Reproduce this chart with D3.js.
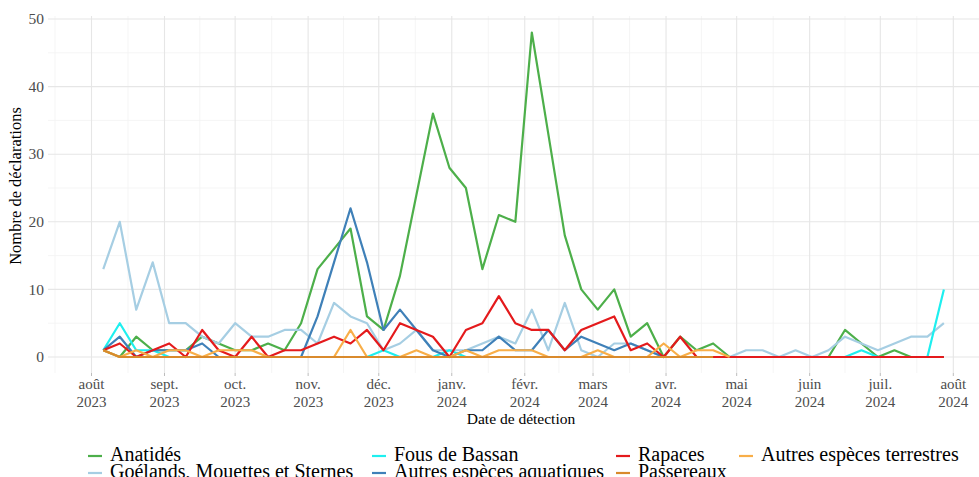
<!DOCTYPE html>
<html>
<head>
<meta charset="utf-8">
<script src="https://cdn.jsdelivr.net/npm/d3@7"></script>
<style>
  html, body { margin: 0; padding: 0; background: #fff; }
  svg { display: block; }
  text { font-family: "Liberation Serif", "Times New Roman", serif; }
</style>
</head>
<body>
<svg id="chart" width="979" height="477"></svg>
<script>
// ---------- DATA ----------
const weeks = [
  "2023-08-06","2023-08-13","2023-08-20","2023-08-27","2023-09-03","2023-09-10","2023-09-17","2023-09-24",
  "2023-10-01","2023-10-08","2023-10-15","2023-10-22","2023-10-29","2023-11-05","2023-11-12","2023-11-19",
  "2023-11-26","2023-12-03","2023-12-10","2023-12-17","2023-12-24","2023-12-31","2024-01-07","2024-01-14",
  "2024-01-21","2024-01-28","2024-02-04","2024-02-11","2024-02-18","2024-02-25","2024-03-03","2024-03-10",
  "2024-03-17","2024-03-24","2024-03-31","2024-04-07","2024-04-14","2024-04-21","2024-04-28","2024-05-05",
  "2024-05-12","2024-05-19","2024-05-26","2024-06-02","2024-06-09","2024-06-16","2024-06-23","2024-06-30",
  "2024-07-07","2024-07-14","2024-07-21","2024-07-28"
];

const anatides = [1,0,3,1,1,1,3,2,1,1,2,1,5,13,16,19,6,4,12,24,36,28,25,13,21,20,48,33,18,10,7,10,3,5,0,3,1,2,0,0,0,0,0,0,0,4,2,0,1,0,0,0];
const goelands = [13,20,7,14,5,5,3,2,5,3,3,4,4,2,8,6,5,1,2,4,1,1,1,2,3,2,7,1,8,1,0,2,2,1,0,0,0,0,0,1,1,0,1,0,1,3,2,1,2,3,3,5];
const fous     = [1,5,1,1,0,0,0,0,0,0,0,0,0,0,0,0,0,1,0,0,0,1,0,0,0,0,0,0,0,0,0,0,0,0,0,0,0,0,0,0,0,0,0,0,0,0,1,0,0,0,0,10];
const aquatiques = [1,3,0,1,1,1,2,0,0,0,0,0,0,6,14,22,14,4,7,4,1,0,1,1,3,1,1,4,1,3,2,1,2,1,0,0,0,0,0,0,0,0,0,0,0,0,0,0,0,0,0,0];
const rapaces  = [1,2,0,1,2,0,4,1,0,3,0,1,1,2,3,2,4,1,5,4,3,0,4,5,9,5,4,4,1,4,5,6,1,2,0,3,0,0,0,0,0,0,0,0,0,0,0,0,0,0,0,0];
const terrestres = [1,0,1,0,1,1,0,1,1,1,0,0,0,0,0,4,0,0,0,1,0,0,1,0,1,1,1,0,0,0,1,0,0,0,2,0,1,1,0];
const passereaux = [1,0,0,0,0,0,0,0,0,0,0,0,0,0,0,0,0,0,0,0,0,0,0,0,0,0,0,0,0,0,0,0,0,0,0,0,0,0];

const seriesNames = ["Anatidés","Goélands, Mouettes et Sternes","Fous de Bassan","Autres espèces aquatiques","Rapaces","Autres espèces terrestres","Passereaux"];
const seriesValues = [anatides, goelands, fous, aquatiques, rapaces, terrestres, passereaux];
const seriesColors = ["#4DAF4A","#A6CEE3","#1EEFEF","#3F80B8","#E41A1C","#F8AE48","#D98A2C"];

const yTicks = [0,10,20,30,40,50];
const monthTicks = ["2023-08-01","2023-09-01","2023-10-01","2023-11-01","2023-12-01","2024-01-01","2024-02-01","2024-03-01","2024-04-01","2024-05-01","2024-06-01","2024-07-01","2024-08-01"];
const monthLabels = ["août","sept.","oct.","nov.","déc.","janv.","févr.","mars","avr.","mai","juin","juil.","août"];

// legend layout: [series index, column x, row]
const legendItems = [
  {s:0, x:88,  row:0}, {s:2, x:372, row:0}, {s:4, x:616, row:0}, {s:5, x:739, row:0},
  {s:1, x:88,  row:1}, {s:3, x:372, row:1}, {s:6, x:616, row:1}
];

// ---------- CHART ----------
const parse = d3.utcParse("%Y-%m-%d");
const svg = d3.select("#chart");
const panel = {left: 48, right: 979, top: 16, bottom: 373};

const x = d3.scaleUtc()
  .domain([parse("2023-08-01"), parse("2024-08-01")])
  .range([91.5, 953.3]);
const y = d3.scaleLinear().domain([0, 50]).range([357, 19]);

const g = svg.append("g");

// minor grid
const majorDates = monthTicks.map(parse);
const minorDates = [];
minorDates.push(new Date((+parse("2023-07-01") + +majorDates[0]) / 2));
for (let i = 0; i < majorDates.length - 1; i++) {
  minorDates.push(new Date((+majorDates[i] + +majorDates[i+1]) / 2));
}
g.selectAll(".vminor").data(minorDates).join("line")
  .attr("x1", d => x(d)).attr("x2", d => x(d))
  .attr("y1", panel.top).attr("y2", panel.bottom)
  .attr("stroke", "#F2F2F2").attr("stroke-width", 0.8);
g.selectAll(".hminor").data([5,15,25,35,45]).join("line")
  .attr("x1", panel.left).attr("x2", panel.right)
  .attr("y1", d => y(d)).attr("y2", d => y(d))
  .attr("stroke", "#F2F2F2").attr("stroke-width", 0.8);
// major grid
g.selectAll(".vmajor").data(majorDates).join("line")
  .attr("x1", d => x(d)).attr("x2", d => x(d))
  .attr("y1", panel.top).attr("y2", panel.bottom)
  .attr("stroke", "#E6E6E6").attr("stroke-width", 1.1);
g.selectAll(".hmajor").data(yTicks).join("line")
  .attr("x1", panel.left).attr("x2", panel.right)
  .attr("y1", d => y(d)).attr("y2", d => y(d))
  .attr("stroke", "#E6E6E6").attr("stroke-width", 1.1);

// x tick marks
g.selectAll(".xtick").data(majorDates).join("line")
  .attr("x1", d => x(d)).attr("x2", d => x(d))
  .attr("y1", panel.bottom).attr("y2", panel.bottom + 3)
  .attr("stroke", "#BDBDBD").attr("stroke-width", 1);

// x tick labels
const xl = g.selectAll(".xlab").data(majorDates).join("text")
  .attr("x", d => x(d)).attr("text-anchor", "middle")
  .attr("font-size", 15).attr("fill", "#4D4D4D");
xl.append("tspan").attr("x", d => x(d)).attr("y", 389).text((d,i) => monthLabels[i]);
xl.append("tspan").attr("x", d => x(d)).attr("y", 406.5).text(d => d3.utcFormat("%Y")(d));

// y tick labels
g.selectAll(".ylab").data(yTicks).join("text")
  .attr("x", 44).attr("y", d => y(d)).attr("dy", "0.34em")
  .attr("text-anchor", "end").attr("font-size", 15.5).attr("fill", "#4D4D4D")
  .text(d => d);

// axis titles
svg.append("text").attr("x", 521).attr("y", 424).attr("text-anchor", "middle")
  .attr("font-size", 15.5).attr("fill", "#000").text("Date de détection");
svg.append("text").attr("transform", "translate(21,186) rotate(-90)")
  .attr("text-anchor", "middle").attr("font-size", 16.5).attr("fill", "#000")
  .text("Nombre de déclarations");

// lines
const line = d3.line().x(d => x(d.date)).y(d => y(d.value));
seriesValues.forEach((vals, si) => {
  const pts = vals.map((v, i) => ({date: parse(weeks[i]), value: v}));
  g.append("path").datum(pts)
    .attr("d", line).attr("fill", "none")
    .attr("stroke", seriesColors[si]).attr("stroke-width", 2.2)
    .attr("stroke-linejoin", "round");
});

// legend
const lg = svg.append("g");
legendItems.forEach(it => {
  const yy = it.row === 0 ? 461 : 478;
  lg.append("line").attr("x1", it.x).attr("x2", it.x + 14)
    .attr("y1", yy - 5).attr("y2", yy - 5)
    .attr("stroke", seriesColors[it.s]).attr("stroke-width", 2.2);
  lg.append("text").attr("x", it.x + 22).attr("y", yy)
    .attr("font-size", 20).attr("fill", "#000").text(seriesNames[it.s]);
});
</script>
</body>
</html>
